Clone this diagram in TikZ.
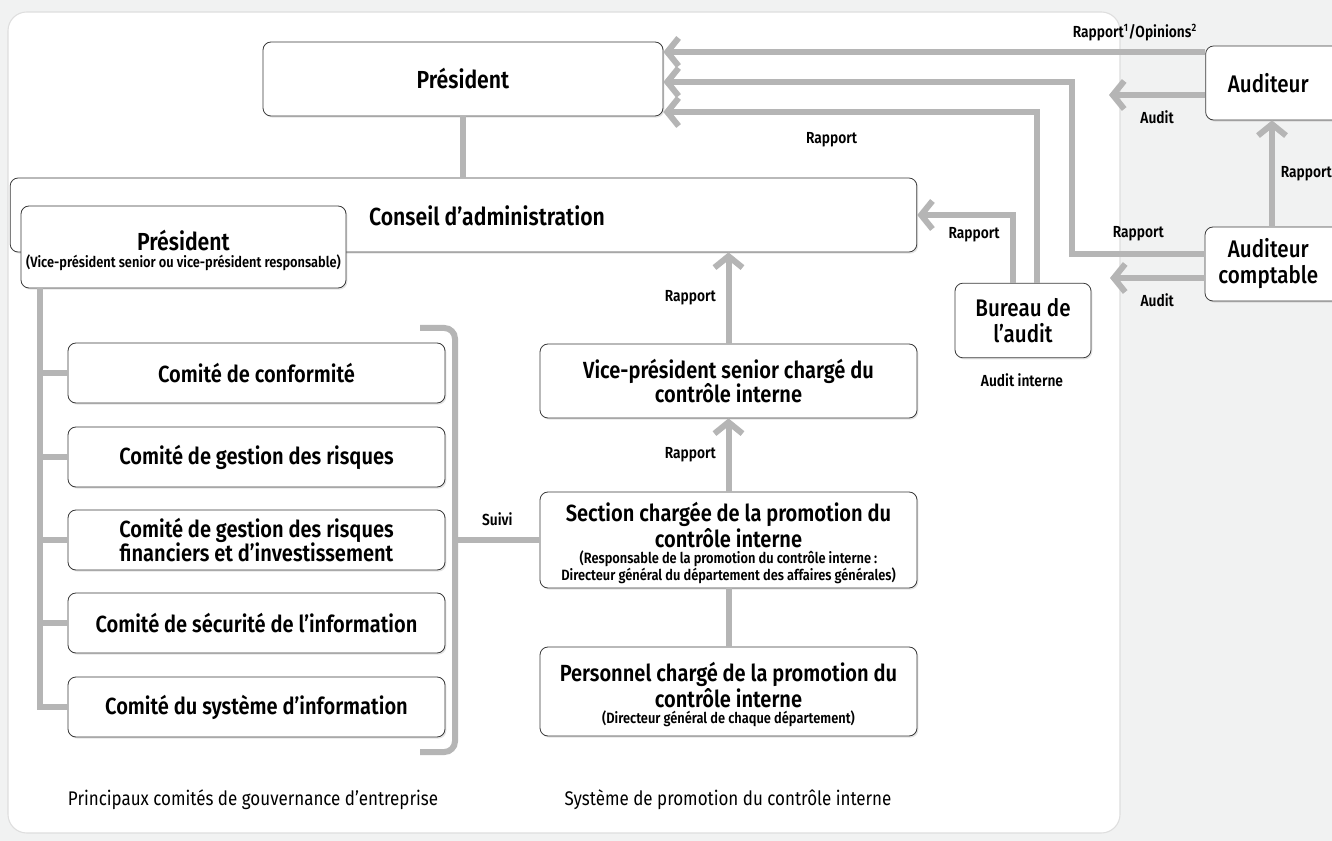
\documentclass[tikz,border=0pt]{standalone}
\usepackage{fontspec}
\setmainfont{Fira Sans}[FakeStretch=0.86, BoldFont={Fira Sans SemiBold}]
\newfontfamily\medfont{Fira Sans Medium}[FakeStretch=0.86]
\usepackage{xcolor}
\usetikzlibrary{positioning,shadows,calc,arrows.meta}

\definecolor{pagegray}{HTML}{F1F2F2}
\definecolor{panelline}{HTML}{DEDEDE}
\definecolor{linkgray}{HTML}{B5B5B5}
\definecolor{boxline}{HTML}{3A3A3A}

\begin{document}
\begin{tikzpicture}[
				x=0.75pt, y=-0.75pt,
				box/.style={rectangle, rounded corners=6pt, draw=boxline, line width=0.6pt, fill=white, align=center, inner sep=2pt,
					drop shadow={opacity=0.22, shadow xshift=1pt, shadow yshift=-1.2pt}},
				bigtxt/.style={font=\fontsize{18.5}{20}\selectfont\bfseries},
				boxtxt/.style={font=\fontsize{17.5}{18.5}\selectfont\bfseries, align=center},
				subtxt/.style={font=\fontsize{11.2}{12.8}\selectfont\bfseries, align=center},
				medtxt/.style={font=\fontsize{18}{19.5}\selectfont\medfont, align=center},
				tag/.style={font=\fontsize{12}{13}\selectfont\bfseries},
				caption/.style={font=\fontsize{14.8}{16}\selectfont},
				link/.style={draw=linkgray, line width=4.5pt},
				arr/.style={link, -{Straight Barb[length=8.5pt, width=21pt]}}
				]
				% page and panel
				\fill[pagegray] (0,0) rectangle (1332,841);
				\useasboundingbox (0,0) rectangle (1332,841);
				\filldraw[fill=white, draw=panelline, line width=0.8pt, rounded corners=14pt] (8,12) rectangle (1120,833);
				
				% top of the chart
				\node[box, bigtxt, minimum width=300pt, minimum height=55.5pt] (president) at (463,79) {Président};
				\node[box, minimum width=680pt, minimum height=55.5pt] (conseil) at (463.5,215) {};
				\node[bigtxt] (conseiltxt) at (487,216) {Conseil d’administration};
				\draw[link] (president.south) -- (president.south |- conseil.north);
				\node[box, minimum width=243.75pt, minimum height=61.5pt] (chair) at (183.5,247) {};
				\node[bigtxt] (chairtxt) at (183.5,240) {Président};
				\node[subtxt] (chairsub) at (183.5,263) {(Vice-président senior ou vice-président responsable)};
				
				% committees
				\node[box, boxtxt, minimum width=282.75pt, minimum height=45pt] (conform) at (256.5,373) {Comité de conformité};
				\node[box, boxtxt, minimum width=282.75pt, minimum height=45pt] (risk) at (256.5,457) {Comité de gestion des risques};
				\node[box, boxtxt, minimum width=282.75pt, minimum height=45pt] (invest) at (256.5,540) {Comité de gestion des risques\\financiers et d’investissement};
				\node[box, boxtxt, minimum width=282.75pt, minimum height=45pt] (secu) at (256.5,623) {Comité de sécurité de l’information};
				\node[box, boxtxt, minimum width=282.75pt, minimum height=45pt] (infosys) at (256.5,707) {Comité du système d’information};
				\coordinate (treetop) at (40,288);
				\coordinate (treebot) at (40,707);
				\draw[link] (treetop) -- (treebot) -- (infosys.west);
				\foreach \c in {conform,risk,invest,secu}
					\draw[link] (treetop |- \c.west) -- (\c.west);
				\draw[link, rounded corners=8pt] (420,328) -- (455,328) -- (455,752) -- (420,752);
				\coordinate (suivipt) at (455,540);
				
				% internal control column
				\node[box, boxtxt, minimum width=282.75pt, minimum height=55.5pt] (vp) at (728.5,381) {Vice-président senior chargé du\\contrôle interne};
				\node[box, minimum width=282.75pt, minimum height=72pt] (section) at (728.5,540) {};
				\node[boxtxt, font=\fontsize{17.5}{18}\selectfont\bfseries] (sectiontxt) at (728.5,525) {Section chargée de la promotion du\\contrôle interne};
				\node[subtxt] (sectionsub) at (728.5,567) {(Responsable de la promotion du contrôle interne :\\Directeur général du département des affaires générales)};
				\node[box, minimum width=282.75pt, minimum height=66.75pt] (staff) at (728.5,691.5) {};
				\node[boxtxt, font=\fontsize{17.5}{18}\selectfont\bfseries] (stafftxt) at (728.5,685) {Personnel chargé de la promotion du\\contrôle interne};
				\node[subtxt] (staffsub) at (728.5,719) {(Directeur général de chaque département)};
				\draw[link] (section.south) -- (staff.north);
				\draw[arr] (section.north) -- node[tag, left=4pt] {Rapport} (vp.south);
				\draw[arr] (vp.north) -- node[tag, left=4pt] {Rapport} (vp.north |- conseil.south);
				\draw[link] (suivipt) -- node[tag, above=5pt] {Suivi} (section.west);
				
				% audit side
				\node[box, medtxt, minimum width=102pt, minimum height=56pt] (bureau) at (1023,320.5) {Bureau de\\l’audit};
				\node[tag] (internal) at (1022,380) {Audit interne};
				\node[box, medtxt, minimum width=104pt, minimum height=55.5pt] (auditor) at (1275,83) {Auditeur\hspace*{10pt}};
				\node[box, medtxt, minimum width=105pt, minimum height=55.5pt] (account) at (1275,264) {Auditeur\hspace*{10pt}\\comptable\hspace*{10pt}};
				
				\draw[arr] (auditor.west |- 0,52) -- node[tag, above=3pt, pos=0.13] {Rapport\textsuperscript{1}/Opinions\textsuperscript{2}} (president.east |- 0,52);
				\draw[arr] (account.west |- 0,254) -- node[tag, above=4pt, pos=0.5] {Rapport} (1072,254) -- (1072,82) -- (president.east |- 0,82);
				\draw[arr] (bureau.north -| 1037,0) -- (1037,112) -- node[tag, below=10pt, pos=0.55] {Rapport} (president.east |- 0,112);
				\draw[arr] (bureau.north -| 1013,0) |- (conseil.east);
				\node[tag] (rbureau) at (974,235) {Rapport};
				
				\coordinate (auditend) at (1109,95);
				\coordinate (auditend2) at (1110,278);
				\draw[arr] (auditor.west |- auditend) -- node[tag, below=6pt] {Audit} (auditend);
				\draw[arr] (account.west |- auditend2) -- node[tag, below=6pt] {Audit} (auditend2);
				\draw[arr] (account.north -| 1272,0) -- node[tag, right=1pt] {Rapport} (auditor.south -| 1272,0);
				
				% captions
				\node[caption] (capleft) at (253,800) {Principaux comités de gouvernance d’entreprise};
				\node[caption] (capright) at (728,800) {Système de promotion du contrôle interne};
			\end{tikzpicture}
\end{document}
